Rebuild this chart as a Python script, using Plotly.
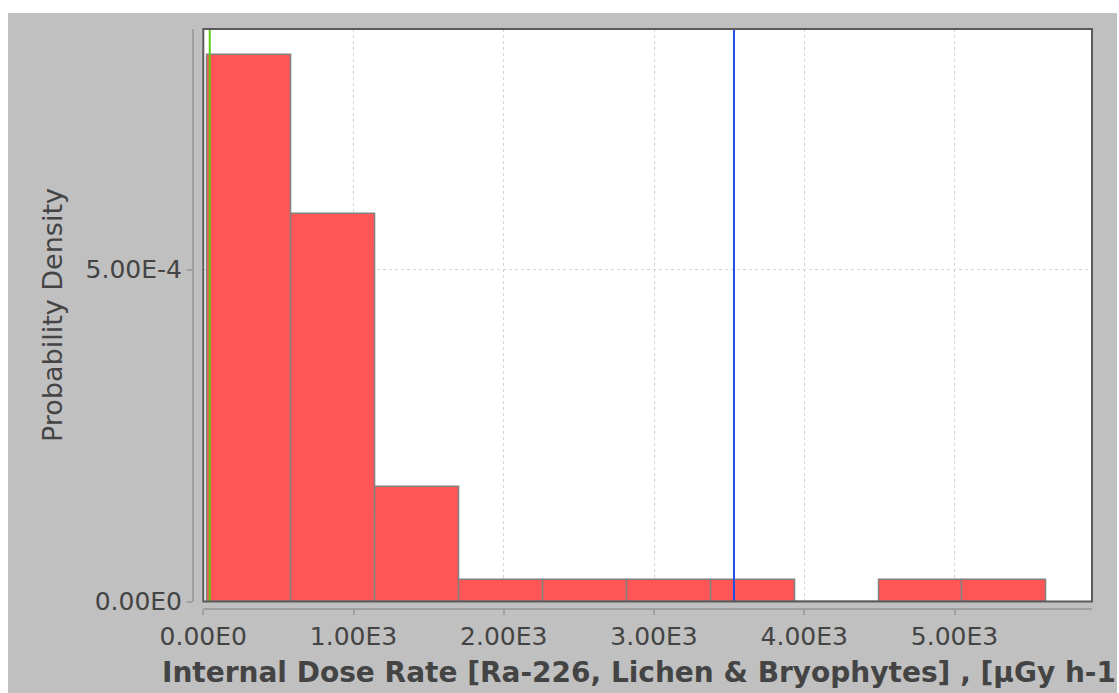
import plotly.graph_objects as go

# Histogram of internal dose rate (Ra-226, lichen & bryophytes)
bin_edges = [27, 586, 1144, 1703, 2261, 2820, 3379, 3937, 4496, 5054, 5613]
density = [8.24e-4, 5.84e-4, 1.72e-4, 3.3e-5, 3.3e-5, 3.3e-5, 3.3e-5, 0.0, 3.3e-5, 3.3e-5]

# Reference markers
green_marker = 43
blue_marker = 3532

x_tickvals = [0, 1000, 2000, 3000, 4000, 5000]
x_ticktext = ["0.00E0", "1.00E3", "2.00E3", "3.00E3", "4.00E3", "5.00E3"]
y_tickvals = [0, 5e-4]
y_ticktext = ["0.00E0", "5.00E-4"]

x_title = "Internal Dose Rate [Ra-226, Lichen &amp; Bryophytes] , [µGy h-1"
y_title = "Probability Density"

W, H = 1119, 693
ML, MR, MT, MB = 193, 27, 29, 84
PW, PH = W - ML - MR, H - MT - MB


def px_x(p):
    return (p - ML) / PW


def px_y(p):
    return (H - MB - p) / PH


centers = [(a + b) / 2 for a, b in zip(bin_edges[:-1], bin_edges[1:])]
widths = [b - a for a, b in zip(bin_edges[:-1], bin_edges[1:])]

fig = go.Figure()
fig.add_trace(go.Bar(
    x=centers, y=density, width=widths,
    marker=dict(color="#ff5555", line=dict(color="#808080", width=1.5)),
    hoverinfo="skip", showlegend=False,
))

fig.add_vline(x=green_marker, line=dict(color="#5ccc14", width=2), layer="above")
fig.add_vline(x=blue_marker, line=dict(color="#1f4fe6", width=2), layer="above")

font_family = "DejaVu Sans"
tick_font = dict(family=font_family, size=25, color="#444444")

fig.update_layout(
    width=W, height=H,
    margin=dict(l=ML, r=MR, t=MT, b=MB, pad=0),
    paper_bgcolor="#c0c0c0",
    plot_bgcolor="#ffffff",
    bargap=0,
    showlegend=False,
    xaxis=dict(
        domain=[px_x(203.3), 1], anchor="free", position=0,
        range=[0, 5915], tickvals=x_tickvals, ticktext=x_ticktext,
        showline=True, linecolor="#a0a0a0", linewidth=2,
        ticks="outside", ticklen=5, tickcolor="#a0a0a0", tickwidth=2,
        showgrid=True, gridcolor="#d4d4d4", gridwidth=1, griddash="3px,3px",
        zeroline=False, tickfont=tick_font,
    ),
    yaxis=dict(
        domain=[px_y(601.5), 1], anchor="free", position=0,
        range=[0, 8.627e-4], tickvals=y_tickvals, ticktext=y_ticktext,
        showline=True, linecolor="#a0a0a0", linewidth=2,
        ticks="outside", ticklen=5, tickcolor="#a0a0a0", tickwidth=2,
        showgrid=True, gridcolor="#d4d4d4", gridwidth=1, griddash="3px,3px",
        zeroline=False, tickfont=tick_font,
    ),
    annotations=[
        dict(text=x_title, xref="paper", yref="paper", x=px_x(160), y=px_y(654),
             xanchor="left", yanchor="top", showarrow=False,
             font=dict(family=font_family, size=28, color="#444444", weight="bold")),
        dict(text=y_title, xref="paper", yref="paper", x=px_x(52), y=px_y(315),
             xanchor="center", yanchor="middle", textangle=-90, showarrow=False,
             font=dict(family=font_family, size=27, color="#444444")),
    ],
)

# white strips framing the grey panel (top, left, right)
strips = [
    (-5, W + 5, -5, 13),
    (-5, 8, -5, H + 5),
    (1117, W + 5, -5, H + 5),
]
for x0, x1, y0, y1 in strips:
    fig.add_shape(type="rect", xref="paper", yref="paper",
                  x0=px_x(x0), x1=px_x(x1), y0=px_y(y1), y1=px_y(y0),
                  fillcolor="#ffffff", opacity=1, line=dict(color="#ffffff", width=0),
                  layer="above")

# plot outline
fig.add_shape(type="rect", xref="x domain", yref="y domain", x0=0, x1=1, y0=0, y1=1,
              line=dict(color="#5a5a5a", width=2), layer="above")

fig.write_html("out.html")
